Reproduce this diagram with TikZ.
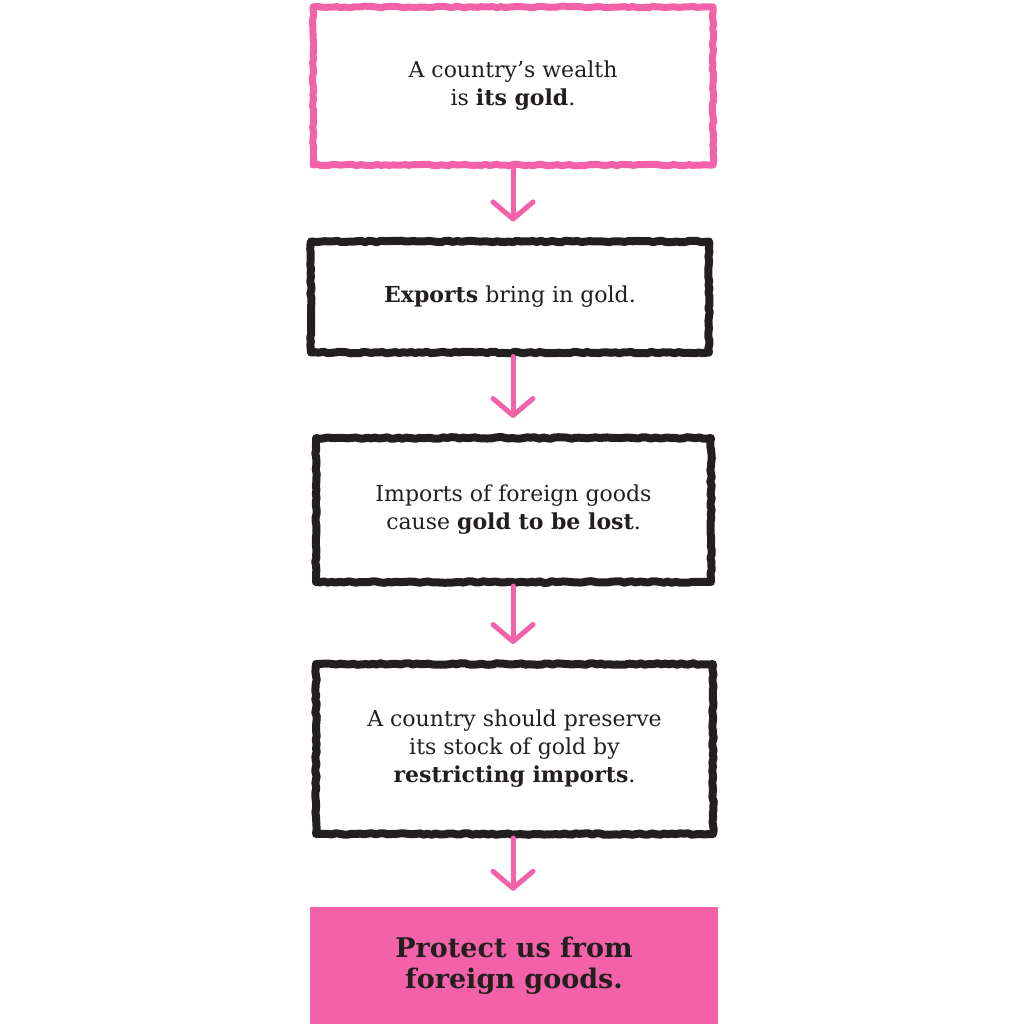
\documentclass[tikz,border=0pt]{standalone}
\usepackage{fontspec}
\setmainfont{DejaVu Serif}
\usetikzlibrary{arrows.meta,decorations.pathmorphing}
\definecolor{hotpink}{RGB}{243,98,168}
\definecolor{ink}{RGB}{35,31,32}
\begin{document}
\begin{tikzpicture}[x=1pt,y=-1pt,
  boxbase/.style={inner sep=0pt, align=center, text=ink,
    font=\fontsize{22}{28}\selectfont},
  crayon/.style={line join=round,
    decorate, decoration={random steps, segment length=4pt, amplitude=0.8pt}},
  pinkbox/.style={boxbase, draw=hotpink, line width=7pt, crayon},
  blackbox/.style={boxbase, draw=ink, line width=8pt, crayon},
  finalbox/.style={inner sep=0pt, align=center, text=ink, fill=hotpink,
    font=\fontsize{27}{31}\selectfont\bfseries},
  conn/.style={draw=hotpink, line width=5pt, line cap=round,
    -{Straight Barb[length=17pt, width=40pt, round]}, shorten >=16pt}]
\useasboundingbox (0,0) rectangle (1024,1024);
\fill[white] (0,0) rectangle (1024,1024);

\node[pinkbox, minimum width=400pt, minimum height=158pt] (b1) at (513,86)
  {A country’s wealth\\is \textbf{its gold}.};
\node[blackbox, minimum width=398pt, minimum height=111pt] (b2) at (510,297)
  {\textbf{Exports} bring in gold.};
\node[blackbox, minimum width=395pt, minimum height=144pt] (b3) at (513.5,510)
  {Imports of foreign goods\\cause \textbf{gold to be lost}.};
\node[blackbox, minimum width=397pt, minimum height=170pt] (b4) at (514.5,749)
  {A country should preserve\\its stock of gold by\\\textbf{restricting imports}.};
\node[finalbox, minimum width=408pt, minimum height=118pt] (b5) at (514,966)
  {Protect us from\\foreign goods.};

\coordinate (ax) at (513,0);
\draw[conn] (b1.south -| ax) -- (b2.north -| ax);
\draw[conn] (b2.south -| ax) -- (b3.north -| ax);
\draw[conn] (b3.south -| ax) -- (b4.north -| ax);
\draw[conn] (b4.south -| ax) -- (b5.north -| ax);
\end{tikzpicture}
\end{document}
